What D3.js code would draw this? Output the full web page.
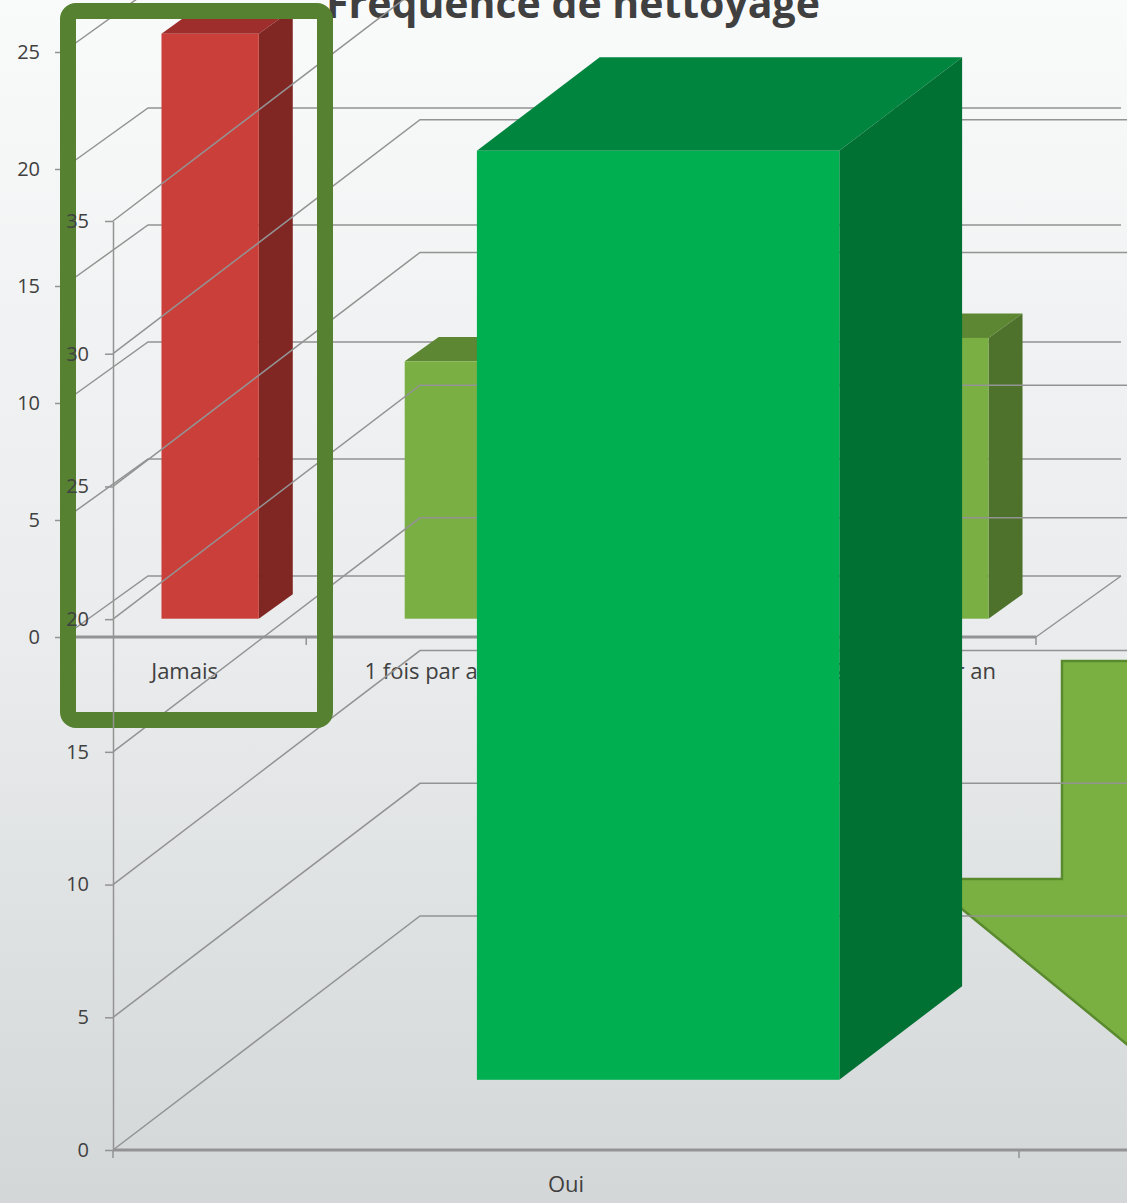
<!DOCTYPE html>
<html><head><meta charset="utf-8">
<script src="https://cdn.jsdelivr.net/npm/d3@7"></script>
<style>html,body{margin:0;padding:0;overflow:hidden;background:#fff}</style>
</head><body>
<svg id="c" width="1127" height="1203"></svg>
<script>
// ---------- DATA ----------
const titleA = "Fréquence de nettoyage";
const categoriesA = ["Jamais", "1 fois par an", "2 fois par an", "2 à 3 fois par an"];
const valuesA = [25, 11, 9, 12];
const ticksA = [0, 5, 10, 15, 20, 25];

const categoriesB = ["Oui", "Non"];
const valuesB = [35, 4];
const ticksB = [0, 5, 10, 15, 20, 25, 30, 35];

// ---------- STYLE / LAYOUT ----------
const W = 1127, H = 1203;
const FONT = "'Open Sans','Noto Sans','DejaVu Sans',sans-serif";
const GRID = "#939393";
const TXT = "#404040";

const svg = d3.select("#c");
const defs = svg.append("defs");
const grad = defs.append("linearGradient").attr("id", "bg")
  .attr("x1", 0).attr("y1", 0).attr("x2", 0).attr("y2", 1);
grad.append("stop").attr("offset", "0%").attr("stop-color", "#f9fafa");
grad.append("stop").attr("offset", "55%").attr("stop-color", "#e9ebec");
grad.append("stop").attr("offset", "100%").attr("stop-color", "#d3d7d8");
svg.append("rect").attr("width", W).attr("height", H).attr("fill", "url(#bg)");

const line = d3.line();

function drawGrid(g, x, y, ticks, depth, x0, x1) {
  g.selectAll("path.grid").data(ticks).join("path")
    .attr("class", "grid")
    .attr("d", t => line([[x0, y(t)], [x0 + depth.dx, y(t) + depth.dy], [x1 + depth.dx, y(t) + depth.dy]]))
    .attr("fill", "none").attr("stroke", GRID).attr("stroke-width", 1.5);
}

function drawBars(g, x, y, cats, vals, depth, colors) {
  const bw = x.bandwidth();
  const w = bw * 0.4, f = 0.3, b = 0.7;
  const data = cats.map((c, i) => ({ c, v: vals[i], col: colors(i) }));
  const bars = g.selectAll("g.bar").data(data).join("g").attr("class", "bar");
  const L = d => x(d.c) + bw * 0.3;
  bars.append("polygon").attr("fill", d => d.col.top)
    .attr("points", d => {
      const yt = y(d.v);
      return [[L(d) + f * depth.dx, yt + f * depth.dy], [L(d) + w + f * depth.dx, yt + f * depth.dy],
              [L(d) + w + b * depth.dx, yt + b * depth.dy], [L(d) + b * depth.dx, yt + b * depth.dy]].join(" ");
    });
  bars.append("polygon").attr("fill", d => d.col.side)
    .attr("points", d => {
      const yt = y(d.v), y0 = y(0);
      return [[L(d) + w + f * depth.dx, yt + f * depth.dy], [L(d) + w + b * depth.dx, yt + b * depth.dy],
              [L(d) + w + b * depth.dx, y0 + b * depth.dy], [L(d) + w + f * depth.dx, y0 + f * depth.dy]].join(" ");
    });
  bars.append("rect").attr("fill", d => d.col.front)
    .attr("x", d => L(d) + f * depth.dx)
    .attr("y", d => y(d.v) + f * depth.dy)
    .attr("width", w)
    .attr("height", d => y(0) - y(d.v));
}

function styleAxis(ax, fs) {
  ax.select(".domain").attr("stroke", GRID).attr("stroke-width", 1.5);
  ax.selectAll(".tick line").attr("stroke", GRID).attr("stroke-width", 1.5);
  ax.selectAll(".tick text").attr("fill", TXT).attr("font-family", FONT).attr("font-size", fs);
}

// ---------- CHART A (back) ----------
const yA = d3.scaleLinear().domain([0, 25]).range([637, 52]);
const xA = d3.scaleBand().domain(categoriesA).range([63, 1036]);
const depthA = { dx: 85, dy: -61 };
const gA = svg.append("g");

drawGrid(gA, xA, yA, ticksA, depthA, 63, 1036);
gA.append("path").attr("d", line([[1036, yA(0)], [1036 + depthA.dx, yA(0) + depthA.dy]]))
  .attr("stroke", GRID).attr("stroke-width", 1.5).attr("fill", "none");
gA.append("path").attr("d", line([[63, yA(0)], [1036, yA(0)]]))
  .attr("stroke", GRID).attr("stroke-width", 3).attr("fill", "none");
gA.selectAll("line.xt").data([...categoriesA.map(c => xA(c)), 1036]).join("line")
  .attr("x1", d => d).attr("x2", d => d).attr("y1", yA(0)).attr("y2", yA(0) + 8)
  .attr("stroke", GRID).attr("stroke-width", 1.5);
const axA = gA.append("g").attr("transform", "translate(63,0)")
  .call(d3.axisLeft(yA).tickValues(ticksA).tickSize(8).tickSizeOuter(0).tickPadding(15));
styleAxis(axA, 20);

const red = { front: "#cb3f3b", side: "#802623", top: "#9d2e2b" };
const lgreen = { front: "#7aaf43", side: "#4e722b", top: "#5d8733" };
drawBars(gA, xA, yA, categoriesA, valuesA, depthA, i => i === 0 ? red : lgreen);

gA.selectAll("text.cat").data(categoriesA).join("text").attr("class", "cat")
  .attr("x", c => xA(c) + xA.bandwidth() / 2).attr("y", 679)
  .attr("text-anchor", "middle").attr("font-family", FONT).attr("font-size", 22)
  .attr("fill", TXT).text(c => c);

gA.append("text").attr("x", 573).attr("y", 18).attr("text-anchor", "middle")
  .attr("font-family", FONT).attr("font-size", 41).attr("font-weight", 700)
  .attr("fill", TXT).text(titleA);

// ---------- ARROW annotation ----------
svg.append("polygon")
  .attr("points", [[1062, 661], [1140, 661], [1140, 1055], [940, 891], [958, 879], [1062, 879]].join(" "))
  .attr("fill", "#7ab042").attr("stroke", "#5a8a2e").attr("stroke-width", 2.5);

// ---------- CHART B (front) ----------
const yB = d3.scaleLinear().domain([0, 35]).range([1150, 221]);
const xB = d3.scaleBand().domain(categoriesB).range([113, 1925]);
const depthB = { dx: 307, dy: -234 };
const gB = svg.append("g");
drawGrid(gB, xB, yB, ticksB, depthB, 113, 1925);
gB.append("path").attr("d", line([[113, yB(0)], [1925, yB(0)]]))
  .attr("stroke", GRID).attr("stroke-width", 3).attr("fill", "none");
gB.selectAll("line.xt").data([...categoriesB.map(c => xB(c)), 1925]).join("line")
  .attr("x1", d => d).attr("x2", d => d).attr("y1", yB(0)).attr("y2", yB(0) + 8)
  .attr("stroke", GRID).attr("stroke-width", 1.5);
// only categories whose label lies inside the visible frame
gB.selectAll("text.cat").data(categoriesB.filter(c => xB(c) + xB.bandwidth() / 2 < W)).join("text")
  .attr("class", "cat")
  .attr("x", c => xB(c) + xB.bandwidth() / 2).attr("y", 1192)
  .attr("text-anchor", "middle").attr("font-family", FONT).attr("font-size", 22)
  .attr("fill", TXT).text(c => c);

const green = { front: "#00b050", side: "#007133", top: "#00853f" };
drawBars(gB, xB, yB, categoriesB, valuesB, depthB, () => green);

// ---------- highlight frame ----------
svg.append("rect").attr("x", 68).attr("y", 11).attr("width", 257).attr("height", 709)
  .attr("rx", 8).attr("fill", "none").attr("stroke", "#558130").attr("stroke-width", 16);

// B axis on top
const axB = svg.append("g").attr("transform", "translate(113,0)")
  .call(d3.axisLeft(yB).tickValues(ticksB).tickSize(8).tickSizeOuter(0).tickPadding(16));
styleAxis(axB, 20);
</script>
</body></html>
